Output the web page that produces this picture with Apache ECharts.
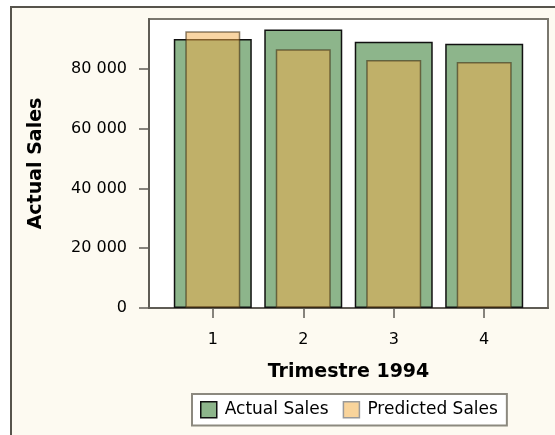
<!DOCTYPE html>
<html>
<head>
<meta charset="utf-8">
<script src="https://cdn.jsdelivr.net/npm/echarts@6/dist/echarts.min.js"></script>
<style>
  html, body { margin: 0; padding: 0; background: #ffffff; }
  #main { width: 555px; height: 435px; }
</style>
</head>
<body>
<div id="main"></div>
<script>
// quarters and sales values
var quarters = [1, 2, 3, 4];
var actualSales = [90000, 93200, 89100, 88400];
var predictedSales = [92600, 86600, 83000, 82300];
var yTicks = [0, 20000, 40000, 60000, 80000];

var chart = echarts.init(document.getElementById('main'));

function pairs(vals) {
    return quarters.map(function (q, i) { return [q, vals[i]]; });
}

// "80 000" style labels
function fmt(v) {
    return String(v).replace(/\B(?=(\d{3})+(?!\d))/g, ' ');
}

var font = 'DejaVu Sans';

chart.setOption({
    backgroundColor: '#ffffff',
    animation: false,
    // cream panel, framed only on top and left (the rest runs off the picture)
    graphic: [{
        type: 'rect',
        shape: { x: 11, y: 7, width: 560, height: 440 },
        style: { fill: '#fdfaf1' },
        z: -10
    }, {
        type: 'polyline',
        shape: { points: [[11, 440], [11, 7], [560, 7]] },
        style: { stroke: '#57544c', lineWidth: 2, fill: null },
        z: -9
    }],
    legend: {
        left: 192,
        top: 394,
        padding: [7, 9, 7, 8],
        itemGap: 14,
        itemWidth: 16,
        itemHeight: 16,
        backgroundColor: '#ffffff',
        borderColor: '#8c897f',
        borderWidth: 2,
        borderRadius: 0,
        textStyle: { fontFamily: font, fontSize: 17, color: '#000', padding: [0, 0, 0, 3] },
        data: [
            { name: 'Actual Sales', icon: 'rect', itemStyle: { color: '#8db58b', borderColor: '#111', borderWidth: 1.5 } },
            { name: 'Predicted Sales', icon: 'rect', itemStyle: { color: '#f9d49b', borderColor: '#9a9a9a', borderWidth: 1.5, opacity: 1 } }
        ]
    },
    grid: {
        left: 149,
        top: 19,
        right: 7,
        bottom: 127,
        show: true,
        backgroundColor: '#ffffff',
        borderColor: '#7a776e',
        borderWidth: 2
    },
    xAxis: [{
        type: 'value',
        min: 0.295,
        max: 4.705,
        name: 'Trimestre 1994',
        nameLocation: 'middle',
        nameGap: 55,
        nameTextStyle: { fontFamily: font, fontSize: 19, fontWeight: 'bold', color: '#000' },
        axisLine: { show: true, lineStyle: { color: '#5f5c55', width: 2 } },
        axisTick: { show: true, length: 10, customValues: quarters, lineStyle: { color: '#5f5c55', width: 1.5 } },
        axisLabel: { customValues: quarters, margin: 24, fontFamily: font, fontSize: 16, color: '#000' },
        splitLine: { show: false }
    }, {
        type: 'value',
        min: 0.295,
        max: 4.705,
        show: false,
        splitLine: { show: false }
    }],
    yAxis: {
        type: 'value',
        min: 0,
        max: 96700,
        interval: 20000,
        name: 'Actual Sales',
        nameLocation: 'middle',
        nameGap: 103,
        nameTextStyle: { fontFamily: font, fontSize: 19, fontWeight: 'bold', color: '#000' },
        axisLine: { show: true, lineStyle: { color: '#5f5c55', width: 2 } },
        axisTick: { show: true, length: 10, customValues: yTicks, lineStyle: { color: '#5f5c55', width: 1.5 } },
        axisLabel: { customValues: yTicks, margin: 22, fontFamily: font, fontSize: 16, color: '#000', formatter: fmt },
        splitLine: { show: false }
    },
    series: [{
        name: 'Actual Sales',
        type: 'bar',
        xAxisIndex: 0,
        barWidth: 78,
        data: pairs(actualSales),
        itemStyle: { color: '#8db58b', borderColor: '#111', borderWidth: 1.5 },
        z: 2
    }, {
        name: 'Predicted Sales',
        type: 'bar',
        xAxisIndex: 1,
        barWidth: 55,
        data: pairs(predictedSales),
        itemStyle: { color: 'rgba(243,172,72,0.5)', borderColor: 'rgba(60,45,20,0.6)', borderWidth: 1.5 },
        z: 3
    }]
});
</script>
</body>
</html>
